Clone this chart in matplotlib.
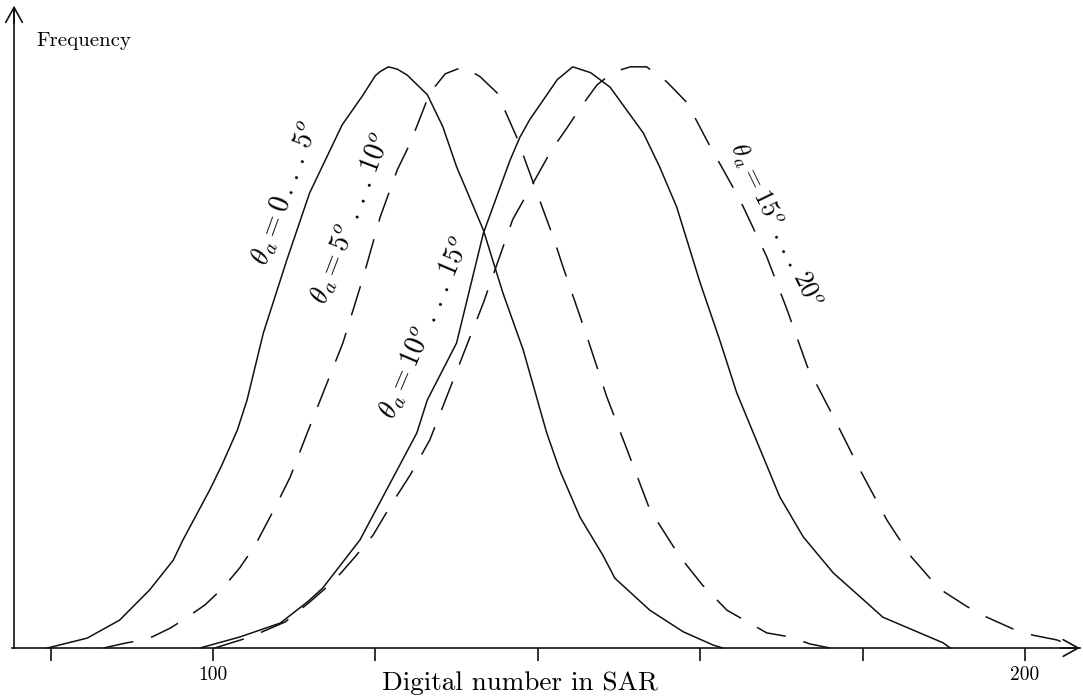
import matplotlib
matplotlib.use("Agg")
import matplotlib.pyplot as plt

# DATA (frequency in % of peak)
# =============================================================================
dn_1 = [79.6, 84.5, 88.5, 92.2, 95.1, 96.3, 99.6, 101.1, 103.0, 104.2, 106.2, 109.1,
        111.9, 115.9, 118.5, 120.0, 120.6, 121.6, 122.7, 123.9, 126.4, 128.3, 130.0,
        133.3, 135.7, 138.2, 141.1, 142.7, 145.2, 148.0, 149.5, 153.8, 157.9, 161.6,
        162.8]
fr_1 = [0, 1.7, 4.8, 10.0, 15.1, 18.6, 27.2, 31.5, 37.5, 42.7, 54.2, 66.8,
        78.3, 90.0, 95.2, 98.5, 99.2, 100, 99.6, 98.6, 95.2, 89.7, 82.8,
        71.9, 61.1, 51.3, 37.0, 30.6, 22.5, 16.0, 12.0, 6.5, 2.8, 0.5,
        0]

dn_2 = [86.5, 89.4, 91.9, 94.7, 96.3, 99.0, 101.2, 103.3, 105.2, 107.8, 109.5, 111.6,
        116.0, 118.5, 120.6, 122.7, 124.3, 126.7, 128.6, 130.8, 132.9, 135.0, 137.4,
        139.9, 141.9, 143.1, 146.1, 148.5, 151.0, 153.8, 157.5, 160.3, 163.3, 168.2,
        171.1, 173.5, 176.0]
fr_2 = [0, 0.9, 1.5, 3.4, 4.8, 7.4, 10.3, 13.8, 17.7, 24.6, 29.4, 37.0,
        52.5, 63.8, 74.2, 82.3, 86.9, 95.5, 98.8, 100, 98.3, 95.5, 87.9,
        78.3, 70.7, 65.6, 53.4, 43.2, 34.1, 23.8, 15.7, 10.8, 6.5, 2.6,
        1.9, 0.7, 0]

dn_3 = [98.4, 103.3, 108.3, 111.6, 113.5, 118.1, 125.1, 126.4, 130.0, 133.3, 136.6,
        137.8, 139.0, 142.4, 144.3, 146.5, 148.9, 153.0, 155.0, 157.1, 160.0, 162.4,
        164.5, 167.4, 169.8, 172.7, 176.4, 179.7, 182.5, 186.7, 189.9, 190.8]
fr_3 = [0, 1.9, 4.3, 7.9, 10.3, 18.6, 37.0, 42.7, 52.5, 71.4, 84.0,
        87.9, 90.9, 97.8, 100, 99.0, 96.5, 88.6, 82.8, 75.9, 62.8, 53.0,
        43.9, 34.1, 26.0, 19.1, 12.9, 8.8, 5.3, 2.8, 0.9, 0]

dn_4 = [100.2, 104.6, 108.9, 111.9, 115.0, 117.5, 119.7, 122.0, 124.3, 126.7, 133.3,
        136.9, 141.7, 143.6, 145.2, 147.3, 149.3, 151.4, 153.4, 155.9, 158.4, 160.8,
        164.9, 168.2, 170.7, 173.2, 176.4, 179.7, 183.0, 185.8, 188.3, 190.1, 192.9,
        195.3, 198.5, 201.0, 203.9, 205.5]
fr_4 = [0, 1.9, 4.5, 7.9, 11.7, 15.7, 19.4, 24.8, 29.8, 35.8, 59.4,
        73.7, 85.7, 89.5, 92.9, 96.9, 99.1, 100, 100, 97.4, 93.8, 87.4,
        77.1, 67.3, 58.2, 48.4, 39.8, 30.6, 22.0, 16.0, 12.0, 9.6, 7.1,
        5.3, 3.3, 2.2, 1.4, 0.5]

tick_pos = [80, 100, 120, 140, 160, 180, 200]
tick_lab = ['', '100', '', '', '', '', '200']

labels = [r'$\theta_a = 0\,.\,.\,.\,5^o$', r'$\theta_a = 5^o\ .\,.\,.\,10^o$',
          r'$\theta_a = 10^o\ .\,.\,.\,15^o$', r'$\theta_a = 15^o\ .\,.\,.\,20^o$']
# =============================================================================

plt.rcParams['mathtext.fontset'] = 'cm'
plt.rcParams['font.family'] = ['cmr10', 'DejaVu Serif']
plt.rcParams['axes.unicode_minus'] = False

ink = '#111111'

fig = plt.figure(figsize=(10.83, 6.98), dpi=100)
ax = fig.add_axes([0, 0, 1, 1])
ax.set_xlim(73.77, 207.14)
ax.set_ylim(-8.6, 111.5)

ax.plot(dn_1, fr_1, color=ink, lw=1.1)
ax.plot(dn_2, fr_2, color=ink, lw=1.1, dashes=(20, 12))
ax.plot(dn_3, fr_3, color=ink, lw=1.1)
ax.plot(dn_4, fr_4, color=ink, lw=1.1, dashes=(20, 12))

# curve labels, rotated along the curves
ax.text(108.9, 78.3, labels[0], rotation=70, fontsize=20, ha='center', va='center',
        rotation_mode='anchor')
ax.text(117.0, 74.0, labels[1], rotation=69, fontsize=20, ha='center', va='center',
        rotation_mode='anchor')
ax.text(126.1, 55.1, labels[2], rotation=67, fontsize=20, ha='center', va='center',
        rotation_mode='anchor')
ax.text(169.3, 72.8, labels[3], rotation=-64, fontsize=18.5, ha='center', va='center',
        rotation_mode='anchor')

# axes as hand drawn arrows
for s in ['top', 'right']:
    ax.spines[s].set_visible(False)
ax.spines['left'].set_position(('data', 75.5))
ax.spines['bottom'].set_position(('data', 0))
ax.spines['left'].set_bounds(0, 110)
ax.spines['bottom'].set_bounds(75.2, 206.8)
for s in ['left', 'bottom']:
    ax.spines[s].set_linewidth(1.2)
    ax.spines[s].set_color(ink)
ax.annotate('', xy=(207.1, 0), xytext=(204.0, 0),
            arrowprops=dict(arrowstyle='->,head_length=0.9,head_width=0.5',
                            color=ink, lw=1.2, mutation_scale=12))
ax.annotate('', xy=(75.5, 111.0), xytext=(75.5, 107.0),
            arrowprops=dict(arrowstyle='->,head_length=0.9,head_width=0.5',
                            color=ink, lw=1.2, mutation_scale=12))

ax.set_yticks([])
ax.set_xticks(tick_pos)
ax.set_xticklabels(tick_lab)
ax.tick_params(axis='x', direction='out', length=9, width=1.2, color=ink,
               labelsize=14, pad=4)

ax.text(137.8, -7.2, 'Digital number in SAR', fontsize=19.5, ha='center', va='baseline')
ax.text(78.2, 104.5, 'Frequency', fontsize=15, ha='left', va='center')

plt.savefig('out.png', dpi=100)
